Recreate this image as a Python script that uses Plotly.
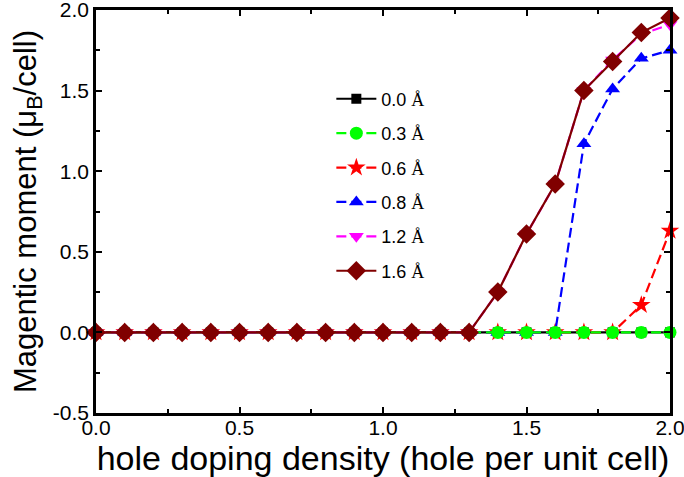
import plotly.graph_objects as go

x_doping = [round(0.1 * i, 1) for i in range(21)]

y_00 = [0.0] * 21
y_03 = [0.0] * 21
y_06 = [0.0] * 19 + [0.17, 0.63]
y_08 = [0.0] * 17 + [1.17, 1.51, 1.70, 1.75]
y_12 = [0.0] * 14 + [0.25, 0.61, 0.92, 1.50, 1.69, 1.85, 1.91]
y_16 = [0.0] * 14 + [0.25, 0.61, 0.92, 1.50, 1.68, 1.86, 1.95]

labels = ["0.0", "0.3", "0.6", "0.8", "1.2", "1.6"]
series = [y_00, y_03, y_06, y_08, y_12, y_16]
colors = ["#000000", "#00FF00", "#FF0000", "#0000FF", "#FF00FF", "#800000"]
symbols = ["square", "circle", "star", "triangle-up", "triangle-down", "diamond"]
dashes = ["solid", "10px,5px", "10px,5px", "10px,5px", "10px,5px", "solid"]
msizes = [10, 13, 14, 13, 13, 15]
draw_order = [0, 2, 3, 1, 4, 5]  # green circles sit above red/blue at zero

y_tickvals = [-0.5, 0.0, 0.5, 1.0, 1.5, 2.0]
y_ticktext = ["-0.5", "0.0", "0.5", "1.0", "1.5", "2.0"]
x_tickvals = [0.0, 0.5, 1.0, 1.5, 2.0]
x_ticktext = ["0.0", "0.5", "1.0", "1.5", "2.0"]

fig = go.Figure()
for i in draw_order:
    fig.add_trace(go.Scatter(
        x=x_doping, y=series[i], mode="lines+markers",
        name=labels[i] + " <span style='font-family:Liberation Serif'>Å</span>",
        legendgroup=str(i), legendrank=i + 1,
        line=dict(color=colors[i], width=2.2, dash=dashes[i]),
        marker=dict(symbol=symbols[i], size=msizes[i], color=colors[i], line=dict(width=0)),
        cliponaxis=False,
    ))

axis_common = dict(
    showline=True, linewidth=2.5, linecolor="black", mirror="ticks",
    ticks="inside", ticklen=6, tickwidth=2, tickcolor="black",
    showgrid=False, zeroline=False, automargin=False,
    ticklabeloverflow="allow",
    tickfont=dict(family="Liberation Sans", size=21, color="black"),
    minor=dict(ticks="inside", ticklen=4, tickwidth=2, tickcolor="black", dtick=0.25),
)

fig.update_xaxes(range=[0, 2.0], tickvals=x_tickvals, ticktext=x_ticktext,
                 ticklabelstandoff=-6,
                 title=dict(text="hole doping density (hole per unit cell)",
                            font=dict(family="Liberation Sans", size=34, color="black"),
                            standoff=0),
                 **axis_common)
fig.update_yaxes(range=[-0.5, 2.0], tickvals=y_tickvals, ticktext=y_ticktext,
                 title=dict(text="Magentic moment (μ<sub>B</sub>/cell)",
                            font=dict(family="Liberation Sans", size=31, color="black"),
                            standoff=8),
                 **axis_common)

fig.update_layout(
    width=684, height=477,
    margin=dict(l=96, r=14, t=10, b=64, pad=0, autoexpand=False),
    plot_bgcolor="white", paper_bgcolor="white",
    showlegend=True,
    legend=dict(x=0.41, y=0.825, xanchor="left", yanchor="top",
                bgcolor="rgba(0,0,0,0)", borderwidth=0,
                font=dict(family="Liberation Sans", size=18, color="black"),
                tracegroupgap=8, traceorder="grouped", itemwidth=40),
)

fig.write_html("out.html", config={"displayModeBar": False},
               post_script="document.body.style.margin='0px';")
